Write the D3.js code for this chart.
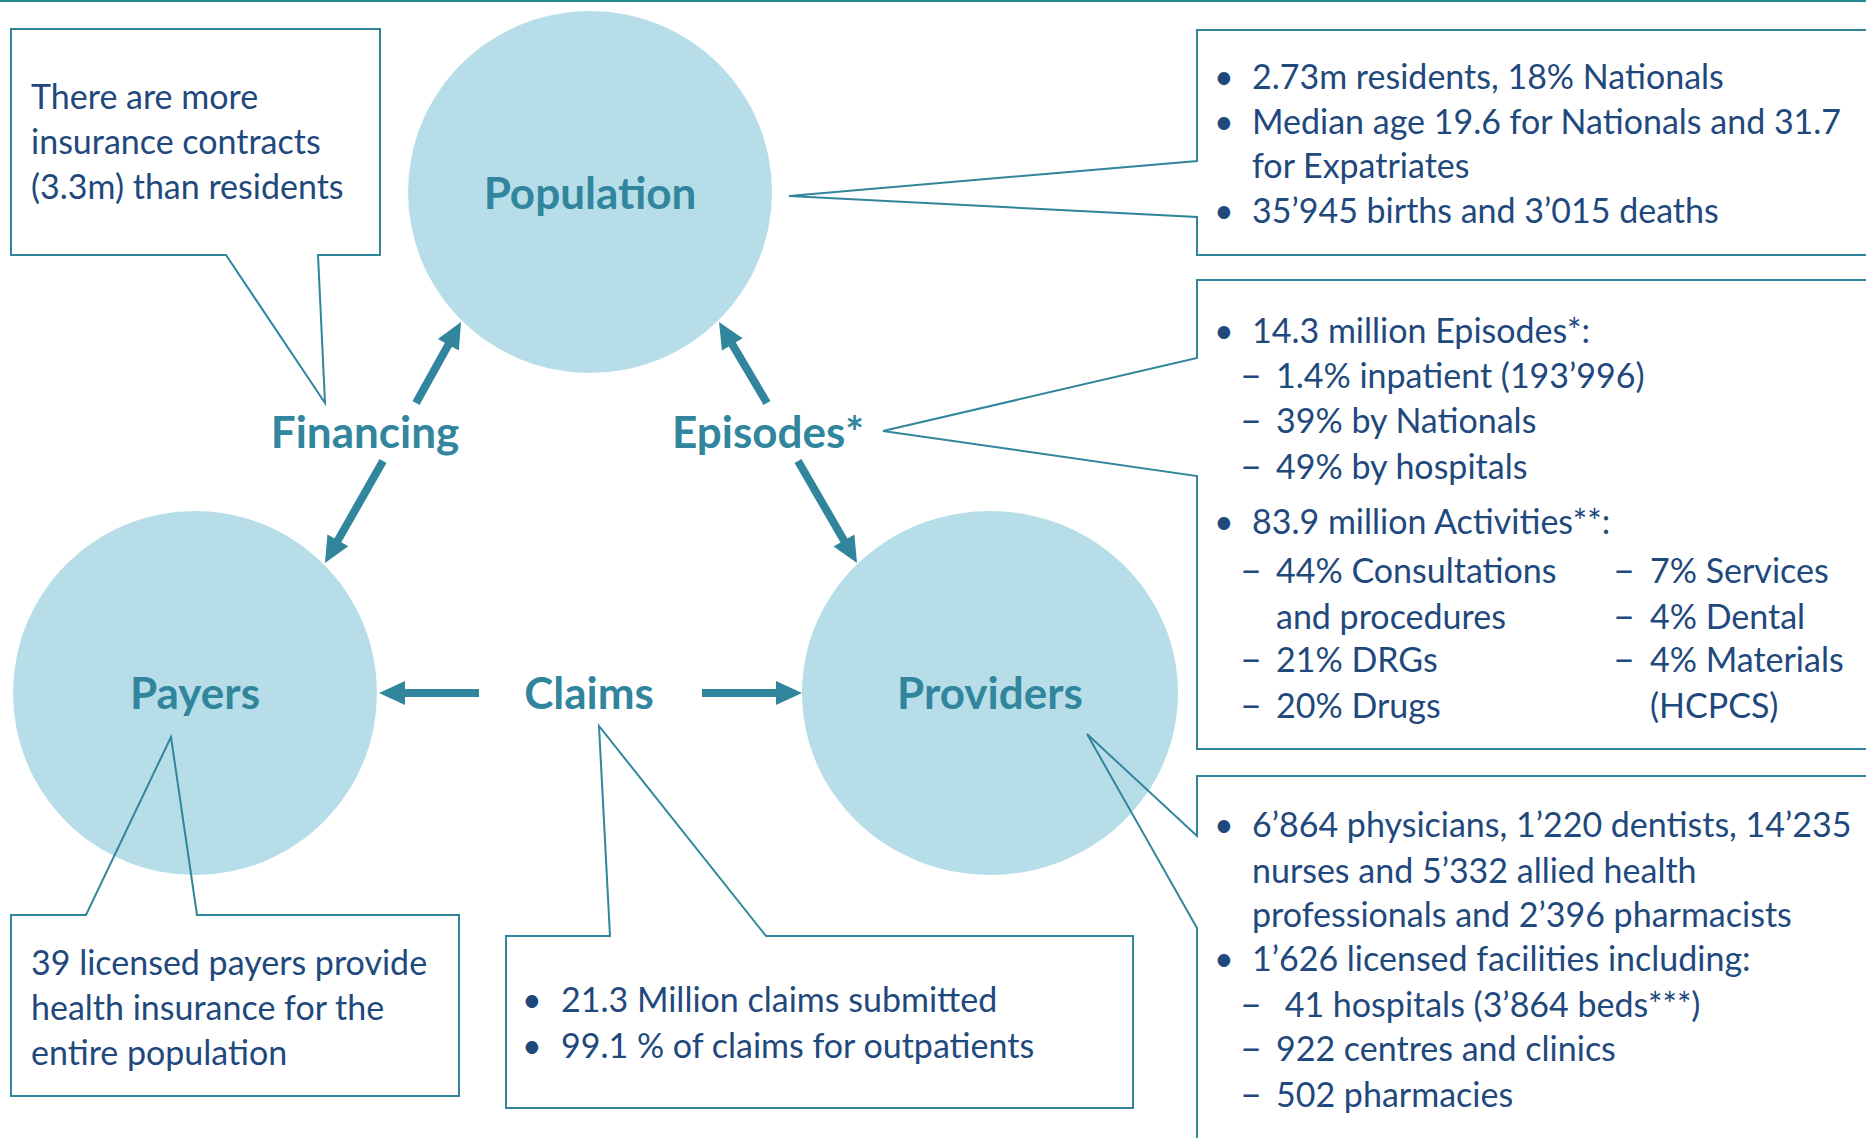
<!doctype html>
<html>
  <head>
    <meta charset="utf-8">
    <title>Health system overview</title>
    <script src="https://cdn.jsdelivr.net/npm/d3@7"></script>
    <style>
      html, body { margin:0; padding:0; overflow:hidden; background:#fff }
      svg { display:block }
      text { font-family: Lato, "Open Sans", sans-serif }
    </style>
  </head>
  <body>
    <div id="chart"></div>
    <script>
      // node names and their callout texts
      var nodes = ["Population", "Payers", "Providers"];
      var flows = ["Financing", "Episodes*", "Claims"];

      var financingNote = ["There are more", "insurance contracts", "(3.3m) than residents"];
      var payersNote = ["39 licensed payers provide", "health insurance for the", "entire population"];
      var claimsNote = ["21.3 Million claims submitted", "99.1 % of claims for outpatients"];
      var populationNote = [
        ["•", "2.73m residents, 18% Nationals"],
        ["•", "Median age 19.6 for Nationals and 31.7"],
        ["", "for Expatriates"],
        ["•", "35’945 births and 3’015 deaths"]
      ];
      var episodesNote = [
        ["•", "14.3 million Episodes*:"],
        ["–", "1.4% inpatient (193’996)"],
        ["–", "39% by Nationals"],
        ["–", "49% by hospitals"]
      ];
      var activitiesHead = "83.9 million Activities**:";
      var activitiesLeft = [["–", "44% Consultations"], ["", "and procedures"], ["–", "21% DRGs"], ["–", "20% Drugs"]];
      var activitiesRight = [["–", "7% Services"], ["–", "4% Dental"], ["–", "4% Materials"], ["", "(HCPCS)"]];
      var providersNote = [
        ["•", "6’864 physicians, 1’220 dentists, 14’235"],
        ["", "nurses and 5’332 allied health"],
        ["", "professionals and 2’396 pharmacists"],
        ["•", "1’626 licensed facilities including:"],
        ["–", "\u00a041 hospitals (3’864 beds***)"],
        ["–", "922 centres and clinics"],
        ["–", "502 pharmacies"]
      ];

      var W = 1866, H = 1138;
      var TEAL = "#31859c", NAVY = "#1f497d", FILL = "#b7dee8";
      var BODY = 34, LINE = 45;

      var svg = d3.select("#chart").append("svg")
        .attr("width", W).attr("height", H);

      svg.append("line").attr("x1", 0).attr("x2", W).attr("y1", 1).attr("y2", 1)
        .attr("stroke", "#2a8a94").attr("stroke-width", 2);

      // circles
      var pos = {
        Population: {x: 590, y: 192, rx: 182, ry: 181},
        Payers: {x: 195, y: 693, rx: 182, ry: 182},
        Providers: {x: 990, y: 693, rx: 188, ry: 182}
      };
      svg.selectAll("ellipse.node").data(nodes).enter().append("ellipse")
        .attr("class", "node")
        .attr("cx", function(d) { return pos[d].x; })
        .attr("cy", function(d) { return pos[d].y; })
        .attr("rx", function(d) { return pos[d].rx; })
        .attr("ry", function(d) { return pos[d].ry; })
        .attr("fill", FILL);

      var line = d3.line();

      // callout boxes (polygon outlines)
      function callout(pts) {
        svg.append("path").attr("d", line(pts) + "Z")
          .attr("fill", "none").attr("stroke", TEAL).attr("stroke-width", 2);
      }
      callout([[11,29],[380,29],[380,255],[318,255],[325,403],[226,255],[11,255]]);
      callout([[1197,30],[1880,30],[1880,255],[1197,255],[1197,217],[789,196],[1197,161]]);
      callout([[1197,280],[1880,280],[1880,749],[1197,749],[1197,476],[883,431],[1197,358]]);
      callout([[1197,776],[1880,776],[1880,1160],[1197,1160],[1197,928],[1087,734],[1197,836]]);
      callout([[11,915],[86,915],[171,737],[197,915],[459,915],[459,1096],[11,1096]]);
      callout([[506,936],[610,936],[599,726],[766,936],[1133,936],[1133,1108],[506,1108]]);

      // node and flow labels
      var labelPos = {
        Population: [590, 209], Payers: [195, 709], Providers: [990, 709],
        Financing: [365, 448], "Episodes*": [768, 448], Claims: [589, 709]
      };
      svg.selectAll("text.label").data(nodes.concat(flows)).enter().append("text")
        .attr("class", "label")
        .attr("x", function(d) { return labelPos[d][0]; })
        .attr("y", function(d) { return labelPos[d][1]; })
        .attr("text-anchor", "middle")
        .attr("font-size", 44).attr("font-weight", "bold")
        .attr("fill", TEAL)
        .text(function(d) { return d; });

      // arrows
      var arrows = [
        [[416,403],[461,322]],
        [[383,461],[325,563]],
        [[767,403],[719,322]],
        [[798,461],[857,563]],
        [[479,693],[379,693]],
        [[702,693],[802,693]]
      ];
      arrows.forEach(function(a) {
        var x1 = a[0][0], y1 = a[0][1], x2 = a[1][0], y2 = a[1][1];
        var dx = x2 - x1, dy = y2 - y1, L = Math.sqrt(dx*dx + dy*dy);
        var ux = dx / L, uy = dy / L, nx = -uy, ny = ux;
        var hl = 26, hw = 12;
        var bx = x2 - ux*hl, by = y2 - uy*hl;
        svg.append("line")
          .attr("x1", x1).attr("y1", y1).attr("x2", bx + ux*2).attr("y2", by + uy*2)
          .attr("stroke", TEAL).attr("stroke-width", 8);
        svg.append("path")
          .attr("d", line([[x2,y2],[bx + nx*hw, by + ny*hw],[bx - nx*hw, by - ny*hw]]) + "Z")
          .attr("fill", TEAL);
      });

      // plain text lines
      function plain(lines, x, y0) {
        svg.append("g").selectAll("text").data(lines).enter().append("text")
          .attr("x", x).attr("y", function(d, i) { return y0 + i*LINE; })
          .attr("font-size", BODY).attr("fill", NAVY)
          .text(function(d) { return d; });
      }
      // bulleted lines: [marker, text]; xc = x of continuation lines
      function bullets(lines, xb, xt, xd, xdt, xc, ys) {
        var g = svg.append("g");
        function put(x, y, s, size) {
          g.append("text").attr("x", x).attr("y", y).attr("font-size", size || BODY).attr("fill", NAVY).text(s);
        }
        lines.forEach(function(d, i) {
          var y = ys[i] + 1;
          if (d[0] === "•") { put(xb, y, "•"); put(xt, y, d[1]); }
          else if (d[0] === "–") { put(xd, y, "–", 38); put(xdt, y, d[1]); }
          else put(xc, y, d[1]);
        });
      }

      plain(financingNote, 31, 109);
      plain(payersNote, 31, 975);

      bullets(populationNote, 1214, 1252, 1240, 1276, 1252, [88, 133, 177, 222]);
      bullets(episodesNote, 1214, 1252, 1240, 1276, 1252, [342, 387, 432, 478]);
      bullets([["•", activitiesHead]], 1214, 1252, 1240, 1276, 1252, [533]);
      bullets(activitiesLeft, 1214, 1252, 1240, 1276, 1276, [582, 628, 671, 717]);
      bullets(activitiesRight, 1214, 1252, 1613, 1650, 1650, [582, 628, 671, 717]);
      bullets(providersNote, 1214, 1252, 1240, 1276, 1252, [836, 882, 926, 970, 1016, 1060, 1106]);
      bullets(claimsNote.map(function(t) { return ["•", t]; }), 522, 561, 522, 561, 561, [1011, 1057]);
    </script>
  </body>
</html>
